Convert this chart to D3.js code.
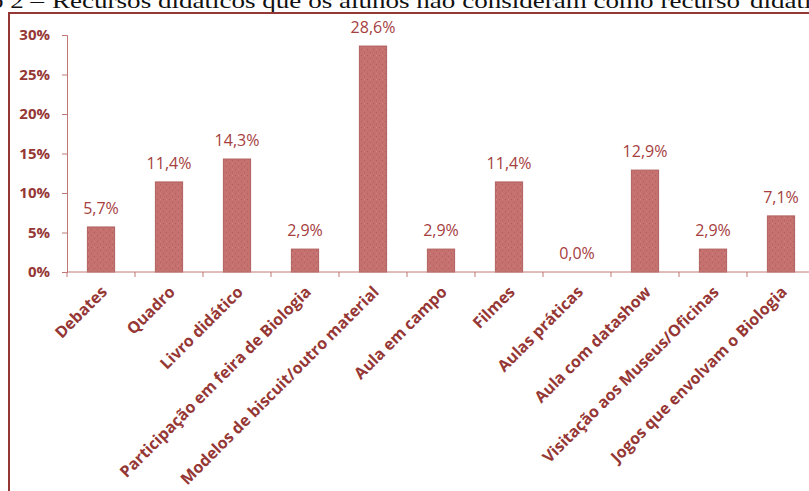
<!DOCTYPE html>
<html>
<head>
<meta charset="utf-8">
<script src="https://cdn.jsdelivr.net/npm/d3@7"></script>
<style>
  html, body { margin: 0; padding: 0; background: #fff; }
  svg { display: block; }
</style>
</head>
<body>
<svg id="chart" width="809" height="491"></svg>
<script>
// Recursos didáticos — percentage of students per resource
const categories = [
  "Debates",
  "Quadro",
  "Livro didático",
  "Participação em feira de Biologia",
  "Modelos de biscuit/outro material",
  "Aula em campo",
  "Filmes",
  "Aulas práticas",
  "Aula com datashow",
  "Visitação aos Museus/Oficinas",
  "Jogos que envolvam o Biologia"
];
const values = [5.7, 11.4, 14.3, 2.9, 28.6, 2.9, 11.4, 0.0, 12.9, 2.9, 7.1];
const yTicks = [0, 5, 10, 15, 20, 25, 30];
const titleLead = "Gráfico 2 –";
const titleText = "Recursos didáticos que os alunos não consideram como recurso";
const titleTail = "didático";

const svg = d3.select("#chart");
const dark = "#953735";
const axisColor = "#C07876";
const labelColor = "#A5403E";

// speckled fill for the bars
const defs = svg.append("defs");
const pat = defs.append("pattern")
  .attr("id", "speckle")
  .attr("patternUnits", "userSpaceOnUse")
  .attr("width", 6).attr("height", 6);
pat.append("rect").attr("width", 6).attr("height", 6).attr("fill", "#C4716F");
pat.append("rect").attr("x", 1).attr("y", 1).attr("width", 1).attr("height", 1).attr("fill", "#B35D5B");
pat.append("rect").attr("x", 4).attr("y", 4).attr("width", 1).attr("height", 1).attr("fill", "#B35D5B");
pat.append("rect").attr("x", 4).attr("y", 1).attr("width", 1).attr("height", 1).attr("fill", "#CC8482");

// caption above the frame, widened uniformly to the caption's width
const titleFont = "'Liberation Serif', serif";
const titleMain = svg.append("text")
  .attr("x", 52).attr("y", 8)
  .attr("font-family", titleFont)
  .attr("font-size", 22)
  .attr("fill", "#111")
  .text(titleText);
const natural = titleMain.node().getComputedTextLength();
const widen = 688 / natural;
titleMain.attr("textLength", 688).attr("lengthAdjust", "spacingAndGlyphs");

const lead = svg.append("text")
  .attr("x", 44).attr("y", 8)
  .attr("text-anchor", "end")
  .attr("font-family", titleFont)
  .attr("font-size", 22)
  .attr("fill", "#111")
  .text(titleLead);
lead.attr("textLength", lead.node().getComputedTextLength() * widen)
  .attr("lengthAdjust", "spacingAndGlyphs");

const tail = svg.append("text")
  .attr("x", 750).attr("y", 8)
  .attr("font-family", titleFont)
  .attr("font-size", 22)
  .attr("fill", "#111")
  .text(titleTail);
tail.attr("textLength", tail.node().getComputedTextLength() * widen)
  .attr("lengthAdjust", "spacingAndGlyphs");

// chart frame
svg.append("rect")
  .attr("x", 9).attr("y", 13)
  .attr("width", 900).attr("height", 600)
  .attr("fill", "none")
  .attr("stroke", dark)
  .attr("stroke-width", 2);

// scales
const x = d3.scaleBand()
  .domain(categories)
  .range([67, 815])
  .paddingInner(0.6)
  .paddingOuter(0.3);
const y = d3.scaleLinear().domain([0, 30]).range([272, 35]);

// y axis
const yAxis = svg.append("g")
  .attr("transform", "translate(67,0)")
  .call(d3.axisLeft(y).tickValues(yTicks).tickSize(5).tickPadding(12)
    .tickFormat(d => d + "%"));
yAxis.select(".domain").attr("stroke", axisColor);
yAxis.selectAll(".tick line").attr("stroke", axisColor);
yAxis.selectAll(".tick text")
  .attr("fill", dark)
  .attr("font-family", "'Open Sans', sans-serif")
  .attr("font-weight", "bold")
  .attr("font-size", 15);

// bars
svg.append("g").selectAll("rect")
  .data(values)
  .join("rect")
  .attr("x", (d, i) => x(categories[i]))
  .attr("y", d => y(d))
  .attr("width", x.bandwidth())
  .attr("height", d => y(0) - y(d))
  .attr("fill", "url(#speckle)")
  .attr("stroke", "#B0605E")
  .attr("stroke-width", 1);

// x axis with ticks between categories
const step = x.step();
const boundaries = d3.range(categories.length + 1).map(i => 67 + i * step);
const xAxis = svg.append("g");
xAxis.append("line")
  .attr("x1", 67).attr("x2", 815)
  .attr("y1", y(0)).attr("y2", y(0))
  .attr("stroke", axisColor);
xAxis.selectAll("line.tk")
  .data(boundaries)
  .join("line")
  .attr("class", "tk")
  .attr("x1", d => d).attr("x2", d => d)
  .attr("y1", y(0)).attr("y2", y(0) + 5)
  .attr("stroke", axisColor);

// value labels
svg.append("g").selectAll("text")
  .data(values)
  .join("text")
  .attr("x", (d, i) => x(categories[i]) + x.bandwidth() / 2)
  .attr("y", d => y(d) - 13)
  .attr("text-anchor", "middle")
  .attr("font-family", "'Open Sans', sans-serif")
  .attr("font-size", 16)
  .attr("fill", labelColor)
  .text(d => d.toFixed(1).replace(".", ",") + "%");

// rotated category labels
svg.append("g").selectAll("text")
  .data(categories)
  .join("text")
  .attr("transform", d => `translate(${x(d) + x.bandwidth() / 2 + 7},${y(0) + 21}) rotate(-45)`)
  .attr("text-anchor", "end")
  .attr("font-family", "'Open Sans', sans-serif")
  .attr("font-weight", 700)
  .attr("font-size", 16)
  .attr("fill", dark)
  .text(d => d);
</script>
</body>
</html>
